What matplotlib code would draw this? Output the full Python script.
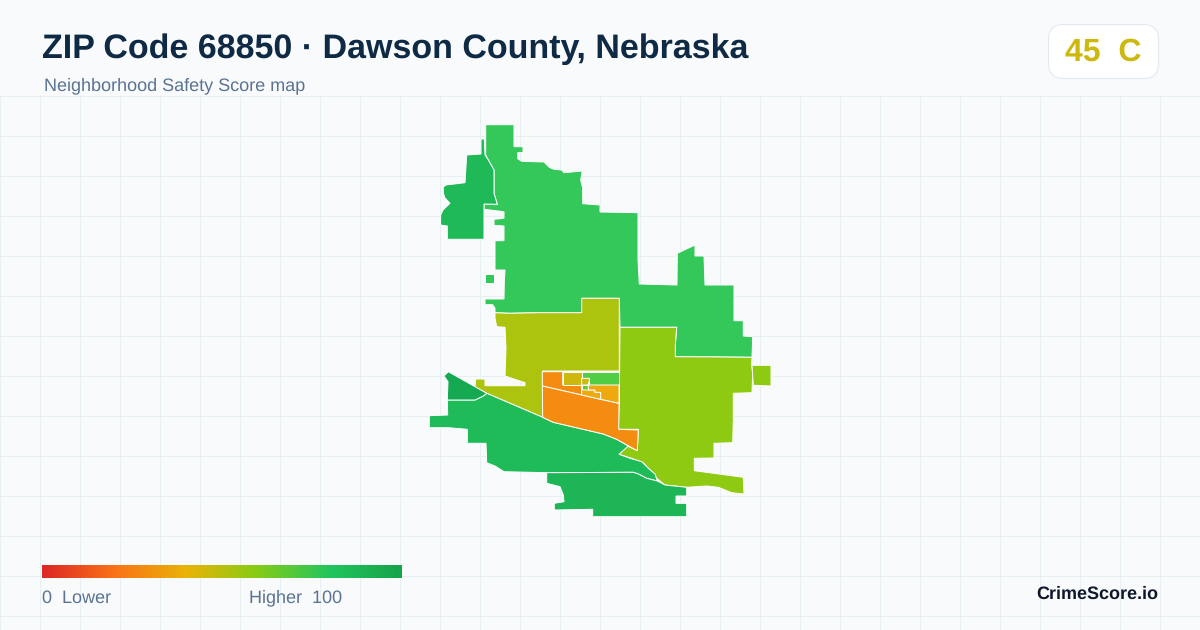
import numpy as np
import matplotlib
matplotlib.use("Agg")
import matplotlib.pyplot as plt
from matplotlib.patches import Polygon, FancyBboxPatch
from matplotlib.colors import LinearSegmentedColormap

plt.rcParams['font.family'] = ['Liberation Sans', 'DejaVu Sans']
plt.rcParams['text.hinting'] = 'none'
plt.rcParams['text.hinting_factor'] = 1

TITLE = "ZIP Code 68850 · Dawson County, Nebraska"
SUBTITLE = "Neighborhood Safety Score map"
SCORE = "45  C"
BRAND = "CrimeScore.io"

north = [(485.7,124.7),(514,124.7),(514,146.7),(523,146.7),(523,152.7),(517.7,152.7),(517.7,158.7),(521.7,161.3),(544,162),(549.3,167.3),(554,169.3),(561.7,170),(564,172.7),(582.3,171),(580.7,180),(582.7,188.3),(582.7,203.7),(600,205),(600,212),(638,212.7),(638,260),(639.3,284),(677,285),(677.3,253.3),(695,245),(695,256),(704,256),(705,285),(734,285),(734,320.7),(743.3,320.7),(743.3,336),(752.7,336.7),(752,357.3),(723,357),(675.3,356.7),(675.3,345),(676.7,327.3),(620,327.3),(619.3,298.3),(581.7,298.3),(581.7,312.7),(538.3,312.7),(509.3,313.3),(495,312.7),(495,308.3),(492.7,304.7),(485,304.7),(485,299),(504,299),(504.3,282),(505,270),(495,270),(495,240.7),(504,240.7),(504,226),(494,225.3),(494,219.3),(504,218.3),(504,211.7),(484,209.3),(484,204),(497.3,204.3),(494,193.3),(494,170),(488.3,160),(485.7,155)]
north_islet = [(485,274),(494,274),(494,283.3),(485,283.3)]
west = [(481,139),(484.3,139),(485,155),(488.3,160),(494,170),(494,193.3),(497.3,204.3),(484,204),(484,239.3),(447.3,239.3),(447.3,226),(440.5,225),(440.7,215),(443,210),(450,203.3),(445,198),(443.3,193),(443.3,187),(446,185),(465,182.7),(466.7,155),(481,154)]
olive = [(495,312.7),(509.3,313.3),(538.3,312.7),(581.7,312.7),(581.7,298.3),(619.3,298.3),(619.3,371),(542.7,371),(542.7,417.3),(486.7,393.3),(475,386.7),(475.7,379),(485,379),(485,385.7),(525,385.7),(525,382.7),(505,376),(506,348.3),(505,327.3),(496.7,326.7),(495,318)]
lime = [(620,327.3),(676.7,327.3),(675.3,345),(675.3,356.7),(723,357),(752,357.3),(751.7,365),(752.7,372.7),(752,392.7),(733.3,393.3),(733.3,420),(732.7,442.7),(714,443.3),(714,458),(694.3,458.3),(694.3,470.7),(743.3,477.3),(744,494),(731.7,492.7),(718.3,487.3),(706.7,486),(686.7,487.3),(665,485),(656.7,478.3),(655,475),(647.3,467.3),(643.3,462.7),(631.7,458.3),(619,454.3),(627.3,446),(637.3,450.7),(638.3,429.3),(618.3,429.3),(619.3,403.3)]
lime_islet = [(752,365.3),(771,365.3),(771,386),(753.3,385.3)]
band = [(447.3,400),(475,400),(483.3,396),(486.7,393.3),(542.7,417.3),(553.3,422.3),(603.3,434),(616.7,439.3),(628.3,446),(619,454.3),(630,458.3),(641.7,461.7),(648.3,468.3),(655,474),(657.3,481),(646.7,478.3),(638.3,474),(633.3,472.3),(546.7,472.7),(504,471.7),(495,466),(486.7,462.7),(486,443.3),(467.3,443.3),(467.3,429.3),(448.3,427.7),(429.3,427.7),(429.3,415.7),(447.7,415)]
corner = [(444,376),(448.3,371.7),(475,386.7),(486.7,393.3),(483.3,396),(475,400),(447.3,400),(448,381.7)]
south = [(546.7,472.7),(633.3,472.3),(638.3,474),(646.7,478.3),(657.3,481),(665,485),(686.7,487.3),(686.7,496),(676,496),(676,503.3),(686.7,503.3),(686.7,516.7),(592.7,516.7),(592.7,509.3),(554.3,510),(554.3,503.3),(564,501.7),(563.3,495),(560,486.7),(546.7,483.3)]
tract_nw = [(542.3,371.7),(562.7,371.7),(562.7,385),(581.7,385),(581.7,395),(542.3,386)]
tract_low = [(542.3,386),(581.7,395),(600.7,399.3),(619,403.3),(618.7,429.3),(638.3,430),(637.3,450.7),(616.7,439.3),(603.3,434),(553.3,422.3),(542.7,417.3)]
tract_gold = [(562.7,371.7),(581.7,371.7),(581.7,385),(562.7,385)]
tract_green = [(581.7,371.7),(619,371.7),(619,385),(589.3,385),(589.3,378.3),(581.7,378.3)]
tract_tiny = [(581.7,378.3),(589.3,378.3),(589.3,381),(588,385),(581.7,385)]
tract_tiny2 = [(581.7,385),(588.3,385),(588.3,390),(581.7,390)]
tract_step = [(581.7,390),(595,390),(595,392.3),(600.7,392.3),(600.7,399.3),(581.7,395)]
tract_amber = [(588.3,385),(619,385),(619,403.3),(600.7,399.3),(600.7,392.3),(595,392.3),(595,390),(588.3,390)]

regions = [
    (north, "#34c759"), (north_islet, "#34c759"), (west, "#1fb958"),
    (olive, "#adc40f"), (lime, "#8fca12"), (lime_islet, "#8fca12"),
    (band, "#1fbb59"), (corner, "#15aa52"), (south, "#1eb556"),
    (tract_nw, "#f48c11"), (tract_low, "#f48c11"), (tract_gold, "#cdb90d"),
    (tract_green, "#50cc45"), (tract_tiny, "#cdb90d"), (tract_tiny2, "#5ecb35"),
    (tract_step, "#eda90e"), (tract_amber, "#eda90e"),
]
scale_colors = ["#dc2626", "#f97316", "#eab308", "#84cc16", "#22c55e", "#16a34a"]

BG = "#f8fafc"
fig = plt.figure(figsize=(12, 6.3), dpi=100, facecolor=BG)
ax = fig.add_axes([0, 0, 1, 1])
ax.set_xlim(0, 1200); ax.set_ylim(630, 0); ax.axis("off")

grid = "#e6eff2"
for x in np.arange(0, 1201, 40):
    ax.plot([x+.5, x+.5], [96, 630], color=grid, lw=0.72, zorder=1, snap=False)
for y in np.arange(96, 631, 40):
    ax.plot([0, 1200], [y+.5, y+.5], color=grid, lw=0.72, zorder=1, snap=False)

for pts, c in regions:
    ax.add_patch(Polygon(pts, closed=True, facecolor=c, edgecolor="white", lw=0.7, zorder=3, joinstyle="miter"))

cmap = LinearSegmentedColormap.from_list("score", scale_colors)
ax.imshow(np.linspace(0, 1, 360)[None, :], cmap=cmap, extent=(42, 402, 578, 565), aspect="auto", zorder=4)
ax.set_xlim(0, 1200); ax.set_ylim(630, 0)

ax.add_patch(FancyBboxPatch((1048.5+15, 24.5+15), 110-30, 54-30, boxstyle="round,pad=15,rounding_size=15",
                            facecolor="white", edgecolor="#e2e8f0", lw=0.75, zorder=4))

ax.text(42, 49, TITLE, fontsize=24.5, fontweight="bold", color="#0f2a44", va="center", ha="left", zorder=5)
ax.text(44, 86, SUBTITLE, fontsize=12.95, color="#5a7391", va="center", ha="left", zorder=5)
ax.text(1103, 52.5, SCORE, fontsize=23, fontweight="bold", color="#cdb80f", va="center", ha="center", zorder=5)
ax.text(42, 598, "0  Lower", fontsize=12.85, color="#5a7391", va="center", ha="left", zorder=5)
ax.text(249, 598, "Higher  100", fontsize=12.85, color="#5a7391", va="center", ha="left", zorder=5)
ax.text(1158, 594, BRAND, fontsize=13, fontweight="bold", color="#0f172a", va="center", ha="right", zorder=5)

fig.savefig("out.png", dpi=100, facecolor=BG)
